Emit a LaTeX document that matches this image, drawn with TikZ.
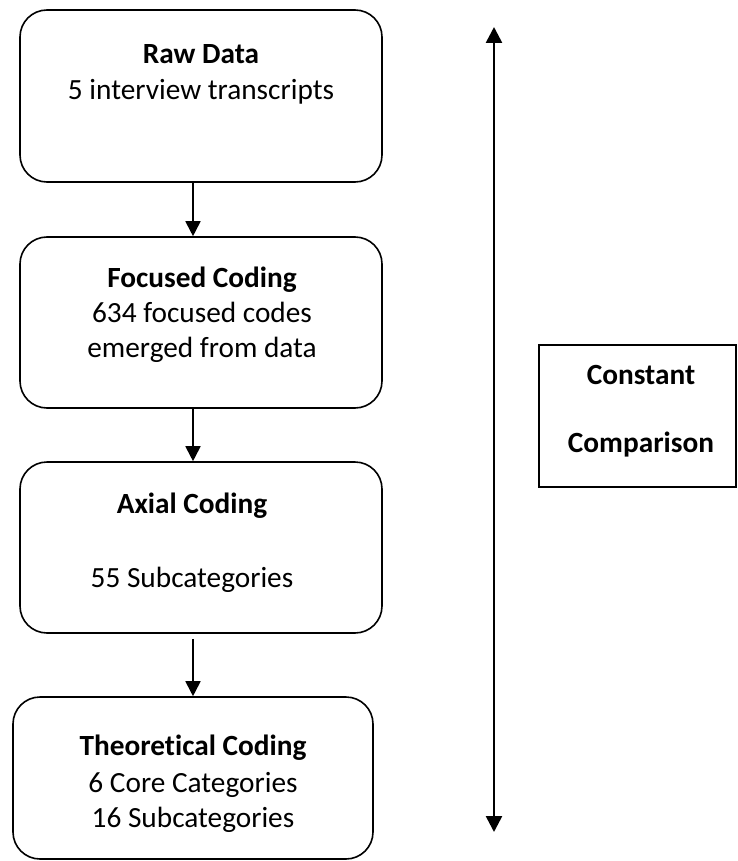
\documentclass[tikz,border=0pt]{standalone}
\usepackage{fontspec}
\setmainfont{Carlito}[Ligatures=CommonOff]
\usetikzlibrary{arrows.meta}
\begin{document}
\begin{tikzpicture}[x=1pt,y=-1pt,
  stage/.style={draw, line width=1.6pt, rounded corners=27pt, inner sep=0pt},
  plain/.style={draw, line width=1.6pt, inner sep=0pt},
  txt/.style={anchor=base, inner sep=0pt, font=\fontsize{29.3}{35}\selectfont},
  bold/.style={txt, font=\fontsize{29.3}{35}\selectfont\bfseries},
  flow/.style={line width=1.8pt, -{Triangle[width=15pt,length=15pt]}},
  loop/.style={line width=2.6pt, {Triangle[width=16pt,length=16pt]}-{Triangle[width=16pt,length=16pt]}}]
\useasboundingbox (0,0) rectangle (737,861);

% stage boxes
\node[stage, minimum width=362pt, minimum height=172pt] (b1) at (201,96) {};
\node[stage, minimum width=362pt, minimum height=171pt] (b2) at (201,322.5) {};
\node[stage, minimum width=362pt, minimum height=171pt] (b3) at (201,547.5) {};
\node[stage, minimum width=360pt, minimum height=162pt] (b4) at (193,778) {};

% box texts
\node[bold] (t1a) at (201,64) {Raw Data};
\node[txt]  (t1b) at (201,100) {5 interview transcripts};
\node[bold] (t2a) at (202,287) {Focused Coding};
\node[txt]  (t2b) at (202,322) {634 focused codes};
\node[txt]  (t2c) at (202,357) {emerged from data};
\node[bold] (t3a) at (192,513) {Axial Coding};
\node[txt]  (t3b) at (192,587) {55 Subcategories};
\node[bold] (t4a) at (193,755) {Theoretical Coding};
\node[txt]  (t4b) at (193,792) {6 Core Categories};
\node[txt]  (t4c) at (193,827) {16 Subcategories};

% flow arrows between stages
\coordinate (ax) at (193,0);
\draw[flow] (b1.south -| ax) -- (b2.north -| ax);
\draw[flow] (b2.south -| ax) -- (b3.north -| ax);
\draw[flow] ([yshift=-5pt]b3.south -| ax) -- (b4.north -| ax);

% constant comparison
\coordinate (ctop) at (494,27);
\coordinate (cbot) at (494,832);
\draw[loop] (ctop) -- (cbot);
\node[plain, minimum width=197pt, minimum height=142pt] (cc) at (637.5,416) {};
\node[bold] (cca) at (641,384) {Constant};
\node[bold] (ccb) at (641,452) {Comparison};
\end{tikzpicture}
\end{document}
